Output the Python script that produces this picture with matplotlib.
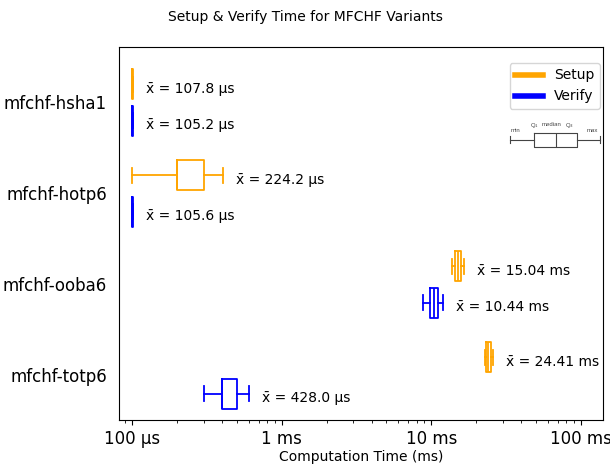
import matplotlib
matplotlib.use("Agg")
import matplotlib.pyplot as plt
from matplotlib.lines import Line2D

# box stats (ms)
variants = ['mfchf-hsha1', 'mfchf-hotp6', 'mfchf-ooba6', 'mfchf-totp6']

setup_min = [0.099, 0.100, 13.7, 23.0]
setup_q1 = [0.0995, 0.200, 14.4, 23.3]
setup_med = [0.100, 0.200, 15.0, 24.0]
setup_q3 = [0.1005, 0.300, 15.7, 24.9]
setup_max = [0.101, 0.403, 16.5, 25.9]
setup_mean = [0.1078, 0.2242, 15.04, 24.41]

verify_min = [0.099, 0.099, 8.8, 0.301]
verify_q1 = [0.0995, 0.0995, 9.85, 0.397]
verify_med = [0.100, 0.100, 10.4, 0.400]
verify_q3 = [0.1005, 0.1005, 11.0, 0.501]
verify_max = [0.101, 0.101, 11.9, 0.607]
verify_mean = [0.1052, 0.1056, 10.44, 0.428]

# little key diagram (relative positions)
key_stats = [0.0, 0.27, 0.51, 0.74, 1.0]
key_labels = ['min', 'Q$_1$', 'median', 'Q$_3$', 'max']
key_label_x = [0.063, 0.27, 0.465, 0.66, 0.909]

tick_vals = [0.1, 1, 10, 100]
tick_labels = ['100 µs', '1 ms', '10 ms', '100 ms']


def fmt_time(ms):
    if ms < 1:
        return f"x\u0304 = {ms * 1000:.1f} µs"
    return f"x\u0304 = {ms:.2f} ms"


def make_stats(mn, q1, med, q3, mx, mean):
    return [dict(whislo=a, q1=b, med=c, q3=d, whishi=e, mean=f, fliers=[])
            for a, b, c, d, e, f in zip(mn, q1, med, q3, mx, mean)]


fig = plt.figure(figsize=(6.1, 4.68), dpi=100)
ax = fig.add_axes([119 / 610, 48 / 468, 484 / 610, 373 / 468])

groups = [
    (make_stats(setup_min, setup_q1, setup_med, setup_q3, setup_max, setup_mean), 'orange', -0.2),
    (make_stats(verify_min, verify_q1, verify_med, verify_q3, verify_max, verify_mean), 'blue', 0.2),
]

for stats, color, off in groups:
    pos = [i + off for i in range(len(variants))]
    props = dict(color=color, linewidth=1.3)
    ax.bxp(stats, positions=pos, widths=0.33, vert=False, showfliers=False,
           boxprops=props, whiskerprops=props, capprops=props, medianprops=props)
    for p, s in zip(pos, stats):
        ax.text(s['whishi'] * 1.22, p + 0.05, fmt_time(s['mean']),
                va='center', ha='left', fontsize=10)

ax.set_xscale('log')
ax.set_xlim(0.0815, 140.7)
ax.set_ylim(3.491, -0.608)
ax.set_yticks(range(len(variants)))
ax.set_yticklabels(variants, fontsize=12)
ax.tick_params(axis='y', length=0, pad=8.6)
ax.set_xticks(tick_vals)
ax.set_xticklabels(tick_labels, fontsize=12)
ax.set_xlabel('Computation Time (ms)', fontsize=10, labelpad=2)

handles = [Line2D([], [], color='orange', lw=4), Line2D([], [], color='blue', lw=4)]
ax.legend(handles, ['Setup', 'Verify'], loc='upper right', fontsize=10,
          bbox_to_anchor=(1.008, 0.976))

fig.suptitle('Setup & Verify Time for MFCHF Variants', fontsize=10, y=1 - 17 / 468, va='center')

# key diagram
kax = fig.add_axes([508 / 610, (468 - 150) / 468, 94 / 610, 32 / 468])
kprops = dict(color='#444444', linewidth=0.8)
kax.bxp([dict(whislo=key_stats[0], q1=key_stats[1], med=key_stats[2], q3=key_stats[3],
              whishi=key_stats[4], fliers=[])],
        positions=[0.35], widths=0.875, vert=False, showfliers=False,
        boxprops=kprops, whiskerprops=kprops, capprops=kprops, medianprops=kprops)
kax.set_xlim(-0.02, 1.02)
kax.set_ylim(1, -1)
heights = [-0.25, -0.5625, -0.5625, -0.5625, -0.25]
for v, lab, h in zip(key_label_x, key_labels, heights):
    kax.text(v, h, lab, ha='center', va='center', fontsize=4.3, color='#444444',
             family=['Liberation Sans', 'DejaVu Sans'])
kax.axis('off')

fig.savefig('out.png', dpi=100)
